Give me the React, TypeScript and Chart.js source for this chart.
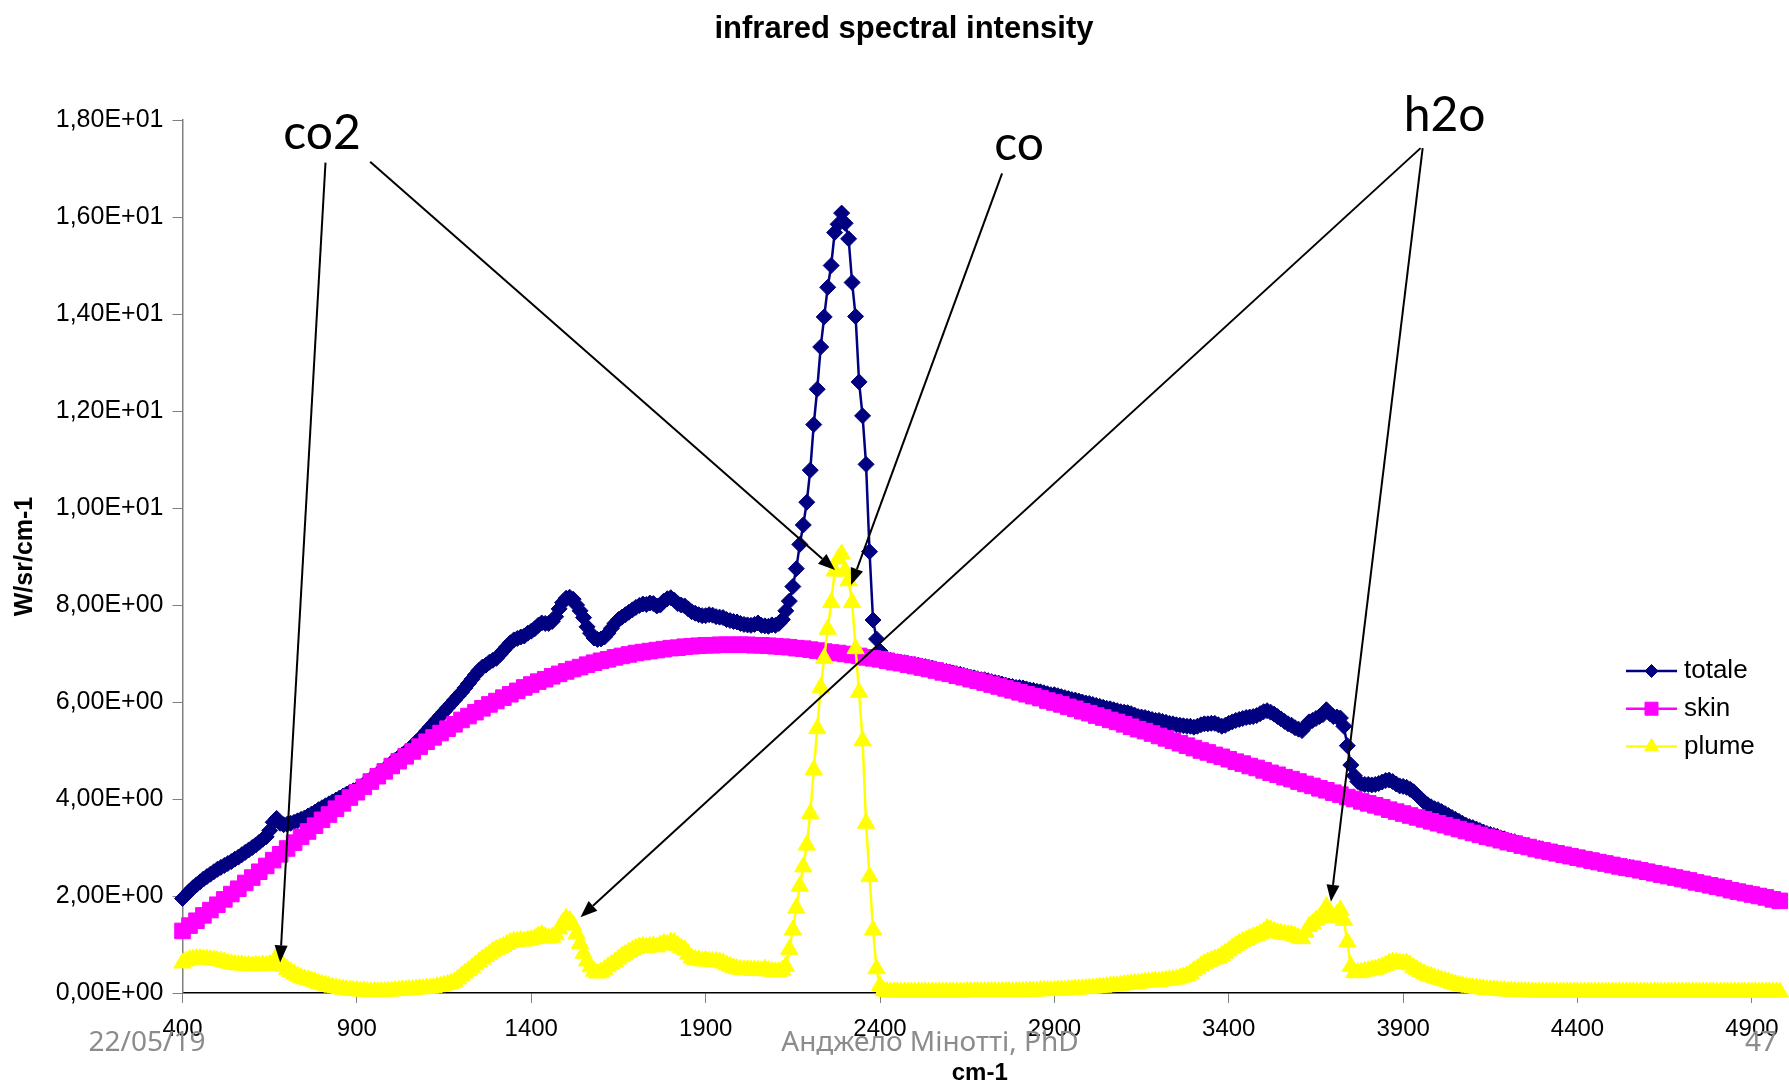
import { useEffect, useRef } from 'react';
import { Chart, registerables } from 'chart.js';

Chart.register(...registerables);

// ---- texts ----
const TITLE = 'infrared spectral intensity';
const X_TITLE = 'cm-1';
const Y_TITLE = 'W/sr/cm-1';
const seriesNames = ['totale', 'skin', 'plume'];
const footerDate = '22/05/19';
const footerAuthor = 'Анджело Мінотті, PhD';
const footerPage = '47';

// ---- axes ----
const xTicks = [400, 900, 1400, 1900, 2400, 2900, 3400, 3900, 4400, 4900];
const yTicks = [0, 2, 4, 6, 8, 10, 12, 14, 16, 18];
const X_MIN = 400;
const X_MAX = 4972;

// ---- sampling grids (cm-1) ----
const FINE_START = 400; // totale, plume
const FINE_STEP = 10;
const SKIN_START = 400;
const SKIN_STEP = 20;

// total radiance, W/sr/cm-1, one row per 100 cm-1
const totale = [
  1.95, 2.02, 2.10, 2.17, 2.23, 2.29, 2.35, 2.40, 2.45, 2.50,
  2.55, 2.59, 2.63, 2.67, 2.71, 2.76, 2.80, 2.85, 2.90, 2.95,
  3.00, 3.05, 3.11, 3.17, 3.22, 3.35, 3.52, 3.60, 3.50, 3.47,
  3.48, 3.50, 3.52, 3.55, 3.58, 3.61, 3.65, 3.69, 3.73, 3.78,
  3.82, 3.86, 3.90, 3.94, 3.98, 4.02, 4.06, 4.10, 4.14, 4.17,
  4.20, 4.25, 4.30, 4.36, 4.41, 4.46, 4.52, 4.57, 4.62, 4.67,
  4.75, 4.80, 4.86, 4.91, 4.97, 5.03, 5.10, 5.17, 5.24, 5.31,
  5.40, 5.48, 5.56, 5.64, 5.72, 5.80, 5.88, 5.96, 6.04, 6.12,
  6.20, 6.29, 6.38, 6.47, 6.56, 6.65, 6.72, 6.76, 6.82, 6.86,
  6.90, 6.98, 7.06, 7.14, 7.22, 7.28, 7.31, 7.34, 7.36, 7.42,
  7.46, 7.51, 7.58, 7.63, 7.62, 7.62, 7.66, 7.76, 7.92, 8.05,
  8.14, 8.16, 8.12, 8.00, 7.88, 7.74, 7.55, 7.42, 7.32, 7.29,
  7.30, 7.34, 7.42, 7.52, 7.62, 7.70, 7.75, 7.80, 7.85, 7.90,
  7.95, 7.99, 8.02, 8.01, 8.04, 8.03, 7.98, 8.00, 8.08, 8.13,
  8.15, 8.10, 8.03, 8.00, 7.98, 7.92, 7.86, 7.83, 7.80, 7.78,
  7.78, 7.80, 7.79, 7.76, 7.75, 7.74, 7.70, 7.68, 7.66, 7.65,
  7.62, 7.60, 7.59, 7.58, 7.60, 7.63, 7.58, 7.57, 7.56, 7.59,
  7.58, 7.62, 7.70, 7.88, 8.08, 8.38, 8.75, 9.25, 9.65, 10.12,
  10.78, 11.72, 12.45, 13.32, 13.94, 14.55, 15.00, 15.68, 15.85, 16.08,
  15.87, 15.55, 14.65, 13.95, 12.60, 11.90, 10.90, 9.10, 7.69, 7.30,
  7.05, 6.93, 6.88, 6.86, 6.84, 6.83, 6.82, 6.81, 6.79, 6.78,
  6.77, 6.76, 6.74, 6.73, 6.71, 6.70, 6.68, 6.66, 6.64, 6.63,
  6.62, 6.60, 6.58, 6.57, 6.55, 6.53, 6.51, 6.50, 6.48, 6.46,
  6.46, 6.44, 6.42, 6.40, 6.39, 6.37, 6.35, 6.33, 6.32, 6.30,
  6.30, 6.29, 6.27, 6.25, 6.24, 6.22, 6.21, 6.19, 6.17, 6.15,
  6.15, 6.13, 6.11, 6.09, 6.07, 6.05, 6.04, 6.02, 6.00, 5.98,
  5.97, 5.95, 5.93, 5.91, 5.89, 5.87, 5.86, 5.84, 5.82, 5.80,
  5.79, 5.78, 5.76, 5.73, 5.70, 5.69, 5.68, 5.66, 5.64, 5.62,
  5.62, 5.60, 5.58, 5.56, 5.55, 5.53, 5.52, 5.51, 5.50, 5.50,
  5.48, 5.50, 5.53, 5.55, 5.55, 5.56, 5.56, 5.53, 5.50, 5.52,
  5.56, 5.59, 5.62, 5.64, 5.66, 5.68, 5.69, 5.70, 5.72, 5.76,
  5.80, 5.82, 5.79, 5.75, 5.70, 5.65, 5.60, 5.55, 5.52, 5.47,
  5.44, 5.41, 5.50, 5.59, 5.62, 5.66, 5.70, 5.74, 5.84, 5.76,
  5.70, 5.69, 5.67, 5.50, 5.10, 4.70, 4.48, 4.36, 4.31, 4.30,
  4.30, 4.29, 4.30, 4.32, 4.35, 4.38, 4.39, 4.36, 4.31, 4.27,
  4.26, 4.24, 4.20, 4.15, 4.08, 4.01, 3.94, 3.88, 3.84, 3.80,
  3.78, 3.74, 3.70, 3.66, 3.62, 3.58, 3.54, 3.50, 3.46, 3.43,
  3.41, 3.38, 3.35, 3.32, 3.29, 3.27, 3.25, 3.23, 3.20, 3.18,
  3.15, 3.13, 3.12, 3.09, 3.07, 3.05, 3.04, 3.01, 2.99, 2.98,
  2.96, 2.94, 2.93, 2.91, 2.90, 2.88, 2.87, 2.85, 2.84, 2.82,
  2.81, 2.79, 2.78, 2.76, 2.75, 2.73, 2.72, 2.70, 2.69, 2.67,
  2.66, 2.64, 2.63, 2.61, 2.60, 2.59, 2.58, 2.56, 2.55, 2.53,
  2.52, 2.50, 2.49, 2.47, 2.46, 2.44, 2.43, 2.41, 2.40, 2.38,
  2.37, 2.35, 2.34, 2.32, 2.30, 2.28, 2.27, 2.25, 2.24, 2.22,
  2.21, 2.19, 2.18, 2.16, 2.14, 2.12, 2.11, 2.09, 2.08, 2.06,
  2.05, 2.03, 2.02, 2.00, 1.99, 1.97, 1.95, 1.93, 1.92,
];

// hot skin emission, one row per 200 cm-1
const skin = [
  1.28, 1.39, 1.49, 1.60, 1.71, 1.82, 1.93, 2.04, 2.15, 2.27,
  2.38, 2.50, 2.62, 2.74, 2.86, 2.98, 3.10, 3.22, 3.33, 3.45,
  3.57, 3.68, 3.80, 3.91, 4.03, 4.14, 4.25, 4.36, 4.47, 4.57,
  4.68, 4.78, 4.88, 4.98, 5.08, 5.18, 5.27, 5.36, 5.45, 5.54,
  5.63, 5.71, 5.79, 5.87, 5.95, 6.02, 6.09, 6.16, 6.23, 6.30,
  6.36, 6.42, 6.47, 6.53, 6.58, 6.63, 6.68, 6.72, 6.77, 6.81,
  6.85, 6.88, 6.92, 6.95, 6.98, 7.01, 7.03, 7.05, 7.07, 7.09,
  7.11, 7.12, 7.14, 7.15, 7.16, 7.17, 7.17, 7.18, 7.18, 7.18,
  7.18, 7.18, 7.17, 7.17, 7.16, 7.15, 7.14, 7.13, 7.11, 7.10,
  7.08, 7.06, 7.04, 7.02, 7.01, 6.99, 6.97, 6.95, 6.92, 6.90,
  6.88, 6.85, 6.82, 6.80, 6.77, 6.74, 6.71, 6.68, 6.65, 6.61,
  6.58, 6.54, 6.51, 6.47, 6.44, 6.40, 6.36, 6.32, 6.28, 6.24,
  6.20, 6.16, 6.12, 6.08, 6.03, 5.99, 5.95, 5.90, 5.86, 5.81,
  5.77, 5.72, 5.68, 5.63, 5.59, 5.54, 5.49, 5.44, 5.40, 5.35,
  5.30, 5.25, 5.20, 5.15, 5.10, 5.05, 5.00, 4.96, 4.91, 4.87,
  4.82, 4.77, 4.73, 4.68, 4.64, 4.59, 4.54, 4.50, 4.45, 4.41,
  4.36, 4.31, 4.27, 4.22, 4.18, 4.13, 4.09, 4.04, 4.00, 3.95,
  3.91, 3.87, 3.83, 3.78, 3.74, 3.70, 3.66, 3.62, 3.58, 3.54,
  3.50, 3.46, 3.42, 3.38, 3.34, 3.30, 3.26, 3.22, 3.19, 3.15,
  3.11, 3.08, 3.04, 3.01, 2.97, 2.94, 2.91, 2.88, 2.85, 2.82,
  2.79, 2.76, 2.73, 2.70, 2.67, 2.64, 2.61, 2.58, 2.56, 2.53,
  2.50, 2.47, 2.44, 2.41, 2.38, 2.35, 2.32, 2.28, 2.25, 2.22,
  2.19, 2.16, 2.12, 2.09, 2.06, 2.03, 2.00, 1.97, 1.93, 1.90,
];

// exhaust plume emission, one row per 100 cm-1
const plume = [
  0.62, 0.66, 0.69, 0.70, 0.71, 0.71, 0.70, 0.70, 0.69, 0.68,
  0.67, 0.66, 0.64, 0.62, 0.60, 0.59, 0.58, 0.58, 0.57, 0.57,
  0.56, 0.57, 0.56, 0.58, 0.57, 0.59, 0.61, 0.75, 0.62, 0.55,
  0.49, 0.44, 0.39, 0.35, 0.32, 0.29, 0.27, 0.25, 0.23, 0.20,
  0.18, 0.16, 0.14, 0.12, 0.11, 0.09, 0.08, 0.07, 0.06, 0.05,
  0.05, 0.04, 0.04, 0.03, 0.03, 0.03, 0.03, 0.03, 0.03, 0.04,
  0.04, 0.05, 0.05, 0.06, 0.06, 0.07, 0.07, 0.08, 0.09, 0.09,
  0.10, 0.10, 0.11, 0.13, 0.14, 0.16, 0.18, 0.20, 0.23, 0.29,
  0.35, 0.41, 0.46, 0.52, 0.58, 0.64, 0.70, 0.75, 0.80, 0.86,
  0.90, 0.93, 0.96, 1.00, 1.04, 1.06, 1.07, 1.08, 1.07, 1.09,
  1.10, 1.12, 1.17, 1.20, 1.16, 1.13, 1.15, 1.20, 1.32, 1.45,
  1.54, 1.50, 1.40, 1.22, 1.02, 0.82, 0.66, 0.54, 0.45, 0.41,
  0.43, 0.48, 0.54, 0.59, 0.64, 0.70, 0.76, 0.80, 0.84, 0.88,
  0.92, 0.95, 0.96, 0.94, 0.96, 0.97, 0.95, 0.99, 1.02, 1.00,
  1.05, 1.04, 0.98, 0.93, 0.89, 0.80, 0.72, 0.69, 0.68, 0.66,
  0.67, 0.66, 0.65, 0.65, 0.64, 0.62, 0.58, 0.55, 0.52, 0.50,
  0.49, 0.48, 0.48, 0.47, 0.47, 0.47, 0.46, 0.49, 0.46, 0.45,
  0.44, 0.44, 0.47, 0.55, 0.90, 1.30, 1.75, 2.20, 2.60, 3.05,
  3.70, 4.60, 5.45, 6.30, 6.90, 7.50, 8.05, 8.70, 8.95, 9.05,
  8.70, 8.50, 8.05, 7.10, 6.20, 5.20, 3.50, 2.40, 1.30, 0.50,
  0.15, 0.05, 0.03, 0.02, 0.02, 0.02, 0.02, 0.02, 0.02, 0.02,
  0.02, 0.02, 0.02, 0.02, 0.02, 0.02, 0.02, 0.02, 0.02, 0.02,
  0.02, 0.02, 0.02, 0.02, 0.02, 0.03, 0.03, 0.03, 0.03, 0.03,
  0.03, 0.03, 0.03, 0.03, 0.03, 0.03, 0.03, 0.03, 0.03, 0.03,
  0.03, 0.03, 0.04, 0.04, 0.04, 0.04, 0.05, 0.05, 0.05, 0.05,
  0.05, 0.06, 0.06, 0.06, 0.07, 0.07, 0.08, 0.08, 0.09, 0.09,
  0.10, 0.10, 0.11, 0.12, 0.12, 0.13, 0.14, 0.15, 0.15, 0.16,
  0.17, 0.18, 0.19, 0.20, 0.20, 0.21, 0.22, 0.23, 0.23, 0.24,
  0.24, 0.25, 0.26, 0.27, 0.28, 0.29, 0.31, 0.33, 0.36, 0.40,
  0.46, 0.50, 0.56, 0.61, 0.64, 0.67, 0.70, 0.72, 0.77, 0.82,
  0.87, 0.93, 0.98, 1.02, 1.06, 1.09, 1.13, 1.16, 1.18, 1.22,
  1.26, 1.33, 1.30, 1.27, 1.24, 1.23, 1.21, 1.20, 1.20, 1.17,
  1.14, 1.12, 1.25, 1.37, 1.43, 1.50, 1.55, 1.62, 1.78, 1.66,
  1.55, 1.62, 1.71, 1.50, 1.05, 0.55, 0.42, 0.42, 0.43, 0.45,
  0.46, 0.48, 0.49, 0.51, 0.54, 0.57, 0.62, 0.64, 0.63, 0.62,
  0.61, 0.62, 0.58, 0.52, 0.48, 0.44, 0.40, 0.36, 0.34, 0.31,
  0.29, 0.27, 0.25, 0.23, 0.20, 0.18, 0.16, 0.15, 0.13, 0.12,
  0.11, 0.10, 0.09, 0.08, 0.07, 0.07, 0.06, 0.06, 0.05, 0.05,
  0.04, 0.04, 0.04, 0.03, 0.03, 0.03, 0.03, 0.02, 0.02, 0.02,
  0.02, 0.02, 0.02, 0.02, 0.02, 0.02, 0.02, 0.02, 0.02, 0.02,
  0.02, 0.02, 0.02, 0.02, 0.02, 0.02, 0.02, 0.02, 0.02, 0.02,
  0.02, 0.02, 0.02, 0.02, 0.02, 0.02, 0.02, 0.02, 0.02, 0.02,
  0.02, 0.02, 0.02, 0.02, 0.02, 0.02, 0.02, 0.02, 0.02, 0.02,
  0.02, 0.02, 0.02, 0.02, 0.02, 0.02, 0.02, 0.02, 0.02, 0.02,
  0.02, 0.02, 0.02, 0.02, 0.02, 0.02, 0.02, 0.02, 0.02, 0.02,
  0.02, 0.02, 0.02, 0.02, 0.02, 0.02, 0.02, 0.02, 0.02,
];

// gas band call-outs, anchored in data space (cm-1, W/sr/cm-1)
const calloutLabels = [
  { text: 'co2', x: 800, y: 17.40 },
  { text: 'co', x: 2799, y: 17.17 },
  { text: 'h2o', x: 4019, y: 17.78 },
];
const calloutArrows = [
  { from: [810, 17.12], to: [680, 0.63] },
  { from: [938, 17.14], to: [2271, 8.72] },
  { from: [2750, 16.9], to: [2317, 8.41] },
  { from: [3950, 17.42], to: [1541, 1.56] },
  { from: [3956, 17.42], to: [3693, 1.88] },
];

// ---- styles ----
const NAVY = '#000080';
const MAGENTA = '#FF00FF';
const YELLOW = '#FFFF00';
const SANS = "'Liberation Sans', Arial, Helvetica, sans-serif";
const seriesStyles = [
  { color: NAVY, point: 'rectRot', radius: 8 },
  { color: MAGENTA, point: 'rect', radius: 11 },
  { color: YELLOW, point: 'triangle', radius: 10 },
];
const legendMarkerRadius = [6.5, 9.2, 8];

function toPoints(values: number[], start: number, step: number) {
  return values.map((y, i) => ({ x: start + i * step, y }));
}

function sciLabel(v: number): string {
  if (v === 0) return '0,00E+00';
  const e = Math.floor(Math.log10(Math.abs(v)));
  const m = v / Math.pow(10, e);
  const exp = String(Math.abs(e)).padStart(2, '0');
  return m.toFixed(2).replace('.', ',') + 'E' + (e < 0 ? '-' : '+') + exp;
}

function drawMarker(ctx: CanvasRenderingContext2D, shape: string, x: number, y: number, r: number) {
  ctx.beginPath();
  if (shape === 'rect') {
    const s = Math.SQRT1_2 * r;
    ctx.rect(x - s, y - s, 2 * s, 2 * s);
  } else if (shape === 'rectRot') {
    ctx.moveTo(x - r, y);
    ctx.lineTo(x, y - r);
    ctx.lineTo(x + r, y);
    ctx.lineTo(x, y + r);
    ctx.closePath();
  } else {
    const a = (2 * Math.PI) / 3;
    ctx.moveTo(x, y - r);
    ctx.lineTo(x + Math.sin(a) * r, y - Math.cos(a) * r);
    ctx.lineTo(x + Math.sin(2 * a) * r, y - Math.cos(2 * a) * r);
    ctx.closePath();
  }
  ctx.fill();
  ctx.stroke();
}

const overlayPlugin = {
  id: 'spectrumOverlay',
  afterDraw(chart: any) {
    const { ctx, chartArea, scales } = chart;
    const xs = scales.x;
    const ys = scales.y;
    ctx.save();

    // call-out arrows
    ctx.strokeStyle = '#000';
    ctx.fillStyle = '#000';
    ctx.lineWidth = 2;
    for (const a of calloutArrows) {
      const x1 = xs.getPixelForValue(a.from[0]);
      const y1 = ys.getPixelForValue(a.from[1]);
      const x2 = xs.getPixelForValue(a.to[0]);
      const y2 = ys.getPixelForValue(a.to[1]);
      const ang = Math.atan2(y2 - y1, x2 - x1);
      const head = 17;
      const half = 6.5;
      const bx = x2 - head * Math.cos(ang);
      const by = y2 - head * Math.sin(ang);
      ctx.beginPath();
      ctx.moveTo(x1, y1);
      ctx.lineTo(bx, by);
      ctx.stroke();
      ctx.beginPath();
      ctx.moveTo(x2, y2);
      ctx.lineTo(bx + half * Math.sin(ang), by - half * Math.cos(ang));
      ctx.lineTo(bx - half * Math.sin(ang), by + half * Math.cos(ang));
      ctx.closePath();
      ctx.fill();
    }

    // call-out labels
    ctx.font = "48px Lato, 'Noto Sans', sans-serif";
    ctx.textAlign = 'center';
    ctx.textBaseline = 'alphabetic';
    for (const l of calloutLabels) {
      ctx.fillText(l.text, xs.getPixelForValue(l.x), ys.getPixelForValue(l.y));
    }

    // legend
    const right = chart.width;
    const lx1 = right - 163;
    const lx2 = right - 112;
    const tx = right - 105;
    ctx.font = `26px ${SANS}`;
    ctx.textAlign = 'left';
    ctx.textBaseline = 'middle';
    seriesNames.forEach((name, i) => {
      const st = seriesStyles[i];
      const y = chartArea.top + 551 + i * 37.7;
      ctx.strokeStyle = st.color;
      ctx.fillStyle = st.color;
      ctx.lineWidth = 2.5;
      ctx.beginPath();
      ctx.moveTo(lx1, y);
      ctx.lineTo(lx2, y);
      ctx.stroke();
      ctx.lineWidth = 1;
      drawMarker(ctx, st.point, (lx1 + lx2) / 2, y, legendMarkerRadius[i]);
      ctx.fillStyle = '#000';
      ctx.fillText(name, tx, y);
    });

    // slide footer
    ctx.font = "28px 'Noto Sans', sans-serif";
    ctx.fillStyle = '#8c8c8c';
    ctx.textBaseline = 'alphabetic';
    ctx.textAlign = 'center';
    ctx.fillText(footerDate, 147, 1051);
    ctx.fillText(footerAuthor, 930, 1051);
    ctx.textAlign = 'right';
    ctx.fillText(footerPage, 1777, 1051);

    ctx.restore();
  },
};

export default function App() {
  const canvasRef = useRef<HTMLCanvasElement | null>(null);

  useEffect(() => {
    if (!canvasRef.current) return;
    Chart.defaults.font.family = SANS;
    Chart.defaults.color = '#000';

    const series = [
      toPoints(totale, FINE_START, FINE_STEP),
      toPoints(skin, SKIN_START, SKIN_STEP),
      toPoints(plume, FINE_START, FINE_STEP),
    ];

    const chart = new Chart(canvasRef.current, {
      type: 'line',
      data: {
        datasets: seriesNames.map((name, i) => ({
          label: name,
          data: series[i],
          borderColor: seriesStyles[i].color,
          backgroundColor: seriesStyles[i].color,
          pointBackgroundColor: seriesStyles[i].color,
          pointBorderColor: seriesStyles[i].color,
          borderWidth: 2.5,
          pointStyle: seriesStyles[i].point as any,
          pointRadius: seriesStyles[i].radius,
          pointBorderWidth: 1,
          tension: 0,
          fill: false,
          clip: false as any,
          order: 3 - i,
        })),
      },
      options: {
        animation: false,
        responsive: false,
        devicePixelRatio: 1,
        events: [],
        layout: { padding: { left: 19, right: 0, top: 0, bottom: 0 } },
        plugins: {
          legend: { display: false },
          tooltip: { enabled: false },
          title: {
            display: true,
            text: TITLE,
            color: '#000',
            font: { size: 31, weight: 'bold', lineHeight: 1.2 },
            padding: { top: 11, bottom: 71.8 },
          },
        },
        scales: {
          x: {
            type: 'linear',
            min: X_MIN,
            max: X_MAX,
            afterBuildTicks: (axis: any) => {
              axis.ticks = xTicks.map((v) => ({ value: v }));
            },
            afterFit: (axis: any) => {
              axis.height = 93;
              axis.paddingLeft = 0;
              axis.paddingRight = 0;
            },
            ticks: {
              autoSkip: false,
              maxRotation: 0,
              padding: 12,
              color: '#000',
              font: { size: 24 },
              callback: (v: any) => String(v),
            },
            grid: { drawOnChartArea: false, drawTicks: true, tickLength: 10, color: '#808080' },
            border: { color: '#000', width: 1.5 },
            title: {
              display: true,
              text: X_TITLE,
              color: '#000',
              font: { size: 24, weight: 'bold', lineHeight: 1 },
              padding: { top: 0, bottom: 1 },
            },
          },
          y: {
            type: 'linear',
            min: 0,
            max: 18,
            afterBuildTicks: (axis: any) => {
              axis.ticks = yTicks.map((v) => ({ value: v }));
            },
            afterFit: (axis: any) => {
              axis.width = 163.5;
              axis.paddingTop = 0;
              axis.paddingBottom = 0;
            },
            ticks: {
              padding: 9,
              color: '#000',
              font: { size: 25 },
              callback: (v: any) => sciLabel(Number(v)),
            },
            grid: { drawOnChartArea: false, drawTicks: true, tickLength: 10, color: '#808080' },
            border: { color: '#808080', width: 1.5 },
            title: {
              display: true,
              text: Y_TITLE,
              color: '#000',
              font: { size: 25, weight: 'bold', lineHeight: 1 },
              padding: { top: -6.5, bottom: 0 },
            },
          },
        },
      },
      plugins: [overlayPlugin],
    } as any);

    return () => chart.destroy();
  }, []);

  return (
    <div style={{ position: 'absolute', left: 0, top: 0, width: 1789, height: 1086, background: '#fff' }}>
      <canvas ref={canvasRef} width={1789} height={1086} style={{ display: 'block' }} />
    </div>
  );
}
